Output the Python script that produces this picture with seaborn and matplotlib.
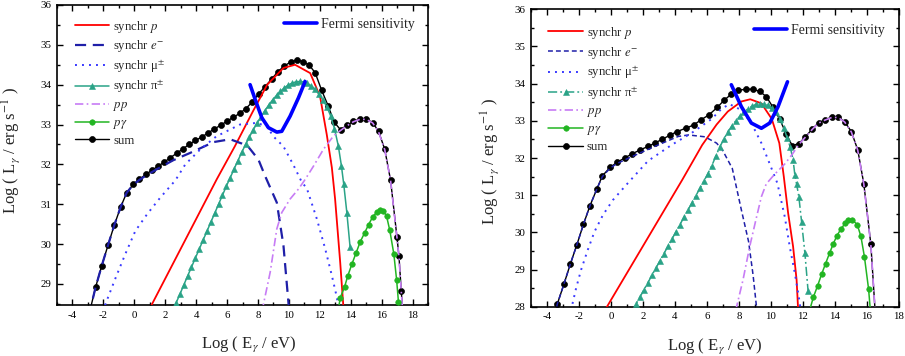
import numpy as np
import pandas as pd
import seaborn as sns
import matplotlib
matplotlib.use("Agg")
import matplotlib.pyplot as plt
from matplotlib.ticker import MultipleLocator

# ---------------- data: left panel ----------------
L_sum_x = [-2.95, -2.50, -2.11, -1.70, -1.29, -0.88, -0.49, -0.06, 0.33, 0.76, 1.17, 1.56, 1.95, 2.34, 2.75,
           3.15, 3.55, 3.95, 4.38, 4.78, 5.18, 5.58, 5.98, 6.40, 6.82, 7.22, 7.62, 8.05, 8.46, 8.88, 9.30,
           9.70, 10.12, 10.52, 10.93, 11.32, 11.70, 12.12, 12.55, 12.93, 13.34, 13.76, 14.18, 14.60, 15.00,
           15.42, 15.80, 16.20, 16.58, 16.99, 17.12, 17.27, 17.38]
L_sum_y = [28.20, 28.92, 29.45, 29.97, 30.48, 30.93, 31.29, 31.50, 31.63, 31.75, 31.86, 31.96, 32.06, 32.17, 32.28,
           32.39, 32.50, 32.60, 32.69, 32.79, 32.89, 32.98, 33.08, 33.18, 33.28, 33.40, 33.56, 33.77, 33.95, 34.14, 34.33,
           34.47, 34.57, 34.62, 34.58, 34.49, 34.30, 33.86, 33.46, 33.06, 32.87, 32.98, 33.08, 33.14, 33.14,
           33.05, 32.83, 32.38, 31.60, 30.18, 29.70, 28.83, 28.20]

L_p_x = [0.90, 1.13, 5.34, 6.50, 7.70, 8.60, 9.65, 10.40, 11.38, 12.02, 12.45, 12.78, 12.99, 13.32, 13.55]
L_p_y = [28.30, 28.48, 31.63, 32.45, 33.35, 34.00, 34.42, 34.50, 34.29, 33.70, 32.75, 31.92, 31.13, 29.54, 28.30]

L_e_x = [-2.95, -2.50, -2.11, -1.70, -1.29, -0.88, -0.49, -0.06, 0.33, 0.76, 1.47, 2.50, 3.63, 5.14, 6.20,
         6.97, 7.38, 8.03, 8.46, 9.22, 9.65, 9.97, 10.02]
L_e_y = [28.20, 28.92, 29.45, 29.97, 30.48, 30.93, 31.29, 31.49, 31.61, 31.72, 31.88, 32.10, 32.29, 32.56, 32.63,
         32.52, 32.44, 32.12, 31.71, 31.04, 29.96, 28.54, 28.30]

L_mu_x = [-2.05, -1.76, -1.23, -0.58, 0.07, 0.83, 1.69, 2.66, 3.30, 4.28, 5.30, 6.84, 7.90, 8.57, 9.00, 9.65,
          10.30, 10.84, 11.16, 11.81, 12.35, 12.78, 13.10, 13.25]
L_mu_y = [28.30, 28.60, 29.13, 29.75, 30.33, 30.75, 31.17, 31.60, 32.00, 32.38, 32.70, 33.00, 33.04, 32.96, 32.70, 32.45,
          31.98, 31.55, 31.40, 30.63, 29.88, 29.21, 28.67, 28.30]

L_pi_x = [2.50, 2.70, 2.95, 3.20, 3.45, 3.70, 3.95, 4.20, 4.45, 4.70, 4.95, 5.20, 5.45, 5.70, 5.95, 6.20, 6.45,
          6.70, 6.95, 7.20, 7.45, 7.70, 7.95, 8.20, 8.45, 8.70, 8.95, 9.20, 9.45, 9.70, 9.95, 10.20, 10.45,
          10.70, 10.95, 11.20, 11.45, 11.70, 11.95, 12.20, 12.45, 12.70, 12.95, 13.20, 13.40, 13.55, 13.75, 13.96]
L_pi_y = [28.30, 28.52, 28.74, 28.97, 29.20, 29.42, 29.65, 29.87, 30.10, 30.32, 30.55, 30.77, 31.00, 31.22, 31.45, 31.66, 31.88,
          32.09, 32.30, 32.50, 32.69, 32.87, 33.04, 33.20, 33.35, 33.49, 33.62, 33.73, 33.83, 33.92, 33.99, 34.04, 34.07,
          34.08, 34.07, 34.03, 33.97, 33.88, 33.76, 33.62, 33.45, 33.22, 32.90, 32.46, 31.96, 31.50, 30.79, 29.92]

L_pp_x = [8.30, 8.35, 8.79, 9.22, 9.54, 10.08, 10.62, 11.05, 11.60, 12.24, 12.90, 13.34, 13.76, 14.18, 14.60,
          15.00, 15.42, 15.80, 16.20, 16.58, 16.99, 17.12, 17.27, 17.38]
L_pp_y = [28.30, 28.48, 29.29, 30.38, 30.79, 31.13, 31.38, 31.62, 31.96, 32.38, 32.72, 32.85, 32.97, 33.07, 33.13,
          33.13, 33.04, 32.82, 32.37, 31.59, 30.17, 29.69, 28.82, 28.20]

L_pg_x = [13.18, 13.32, 13.60, 13.81, 14.08, 14.34, 14.62, 14.90, 15.16, 15.42, 15.68, 15.90, 16.10, 16.32, 16.53,
          16.79, 16.97, 17.09, 17.12]
L_pg_y = [28.30, 28.65, 28.92, 29.20, 29.50, 29.77, 30.06, 30.28, 30.49, 30.68, 30.80, 30.85, 30.84, 30.70, 30.34,
          29.75, 29.10, 28.54, 28.30]

L_fermi_x = [7.49, 7.82, 8.25, 8.68, 9.22, 9.54, 10.08, 10.62, 11.05]
L_fermi_y = [34.00, 33.63, 33.17, 32.92, 32.81, 32.83, 33.21, 33.67, 34.08]

# ---------------- data: right panel ----------------
R_sum_x = [-3.50, -3.35, -2.94, -2.54, -2.13, -1.72, -1.32, -0.89, -0.54, -0.05, 0.37, 0.85, 1.31, 1.83, 2.31,
           2.77, 3.19, 3.71, 4.13, 4.66, 5.18, 5.60, 6.12, 6.64, 7.06, 7.50, 7.95, 8.42, 8.86, 9.30, 9.71,
           10.13, 10.55, 10.95, 11.33, 11.75, 12.15, 12.58, 12.98, 13.38, 13.80, 14.20, 14.60, 15.02, 15.42,
           15.80, 16.24, 16.52]
R_sum_y = [27.80, 28.08, 28.61, 29.15, 29.67, 30.22, 30.71, 31.16, 31.52, 31.75, 31.88, 32.00, 32.11, 32.22, 32.31,
           32.41, 32.50, 32.62, 32.71, 32.80, 32.89, 33.02, 33.16, 33.36, 33.55, 33.71, 33.82, 33.85, 33.85, 33.79, 33.65,
           33.36, 33.04, 32.65, 32.33, 32.39, 32.57, 32.78, 32.95, 33.03, 33.10, 33.10, 32.98, 32.71, 32.22,
           31.31, 29.68, 27.80]

R_p_x = [-0.35, -0.25, 4.45, 5.70, 6.60, 7.30, 8.15, 8.70, 9.40, 10.05, 10.52, 10.80, 11.07, 11.38, 11.60, 11.68, 11.70]
R_p_y = [27.93, 28.00, 31.41, 32.35, 32.90, 33.25, 33.52, 33.58, 33.47, 33.05, 32.40, 31.50, 30.52, 29.62, 28.72, 28.05, 27.90]

R_e_x = [-3.50, -3.35, -2.94, -2.54, -2.13, -1.72, -1.32, -0.89, -0.54, -0.05, 0.37, 1.27, 2.94, 4.20, 4.85,
         5.87, 6.60, 6.96, 7.58, 8.15, 8.60, 8.88, 9.08, 9.12]
R_e_y = [27.80, 28.08, 28.61, 29.15, 29.67, 30.22, 30.71, 31.16, 31.50, 31.73, 31.85, 32.03, 32.35, 32.58, 32.62,
         32.57, 32.40, 32.22, 31.72, 30.60, 29.75, 28.85, 28.05, 27.90]

R_mu_x = [-2.55, -2.45, -2.18, -1.87, -1.45, -1.03, -0.50, 0.12, 0.96, 2.31, 3.78, 5.03, 6.29, 6.90, 7.40,
          8.15, 8.77, 9.40, 9.82, 10.40, 10.86, 11.17, 11.49, 11.80, 11.85]
R_mu_y = [27.90, 28.00, 28.50, 28.99, 29.53, 30.02, 30.47, 30.87, 31.28, 31.92, 32.35, 32.67, 33.05, 33.32, 33.45,
          33.29, 32.94, 32.40, 31.95, 31.32, 30.42, 29.62, 28.90, 28.10, 27.90]

R_pi_x = [1.30, 1.55, 1.80, 2.05, 2.30, 2.55, 2.80, 3.05, 3.30, 3.55, 3.80, 4.05, 4.30, 4.55, 4.80, 5.05, 5.30,
          5.55, 5.80, 6.05, 6.30, 6.55, 6.80, 7.05, 7.30, 7.55, 7.80, 8.05, 8.30, 8.55, 8.80, 9.05, 9.30,
          9.55, 9.80, 10.05, 10.30, 10.55, 10.80, 11.00, 11.20, 11.38, 11.49, 11.60, 11.74, 11.91, 12.12, 12.32]
R_pi_y = [27.80, 28.06, 28.25, 28.45, 28.64, 28.84, 29.03, 29.23, 29.42, 29.62, 29.81, 30.01, 30.20, 30.40, 30.59, 30.79, 30.98,
          31.18, 31.37, 31.58, 31.79, 32.05, 32.30, 32.50, 32.70, 32.86, 33.00, 33.12, 33.23, 33.32, 33.39, 33.44, 33.46,
          33.46, 33.42, 33.35, 33.24, 33.06, 32.82, 32.55, 32.30, 31.95, 31.55, 31.30, 30.96, 30.29, 29.44, 28.41]

R_pp_x = [7.75, 7.85, 8.25, 8.67, 9.09, 9.40, 9.70, 10.20, 10.86, 11.33, 11.75, 12.15, 12.58, 12.98, 13.38,
          13.80, 14.20, 14.60, 15.02, 15.42, 15.80, 16.24, 16.52]
R_pp_y = [27.90, 28.00, 28.72, 29.62, 30.40, 30.96, 31.30, 31.55, 31.84, 32.10, 32.37, 32.56, 32.77, 32.94, 33.02,
          33.09, 33.09, 32.97, 32.70, 32.21, 31.30, 29.67, 27.80]

R_pg_x = [12.38, 12.65, 12.91, 13.16, 13.41, 13.66, 13.89, 14.11, 14.37, 14.63, 14.84, 15.07, 15.39, 15.62, 15.84,
          16.10, 16.22]
R_pg_y = [27.85, 28.26, 28.56, 28.87, 29.16, 29.44, 29.69, 29.90, 30.09, 30.24, 30.33, 30.34, 30.21, 29.89, 29.34,
          28.47, 27.85]

R_fermi_x = [7.52, 8.15, 8.77, 9.40, 9.92, 10.44, 11.03]
R_fermi_y = [33.97, 33.38, 32.94, 32.80, 32.94, 33.38, 34.05]

labels = ["synchr $p$", "synchr $e^{-}$", "synchr \u03bc$^{\\pm}$", "synchr \u03c0$^{\\pm}$",
          "$pp$", "$p\\gamma$", "sum"]
x_ticks = [-4, -2, 0, 2, 4, 6, 8, 10, 12, 14, 16, 18]

# ---------------- styling ----------------
sns.set_theme(style="ticks")
plt.rcParams["font.family"] = ["Liberation Serif", "DejaVu Serif"]
plt.rcParams["mathtext.fontset"] = "stix"
plt.rcParams["axes.unicode_minus"] = False

C_P = "#ff0000"
C_E = "#1f1fa8"
C_MU = "#3a3aff"
C_PI = "#2aa387"
C_PP = "#c77cf5"
C_PG = "#22b522"
C_SUM = "#000000"
C_F = "#0000ff"

fig = plt.figure(figsize=(9.05, 3.56), dpi=100)
axL = fig.add_axes([57 / 905, 51 / 356, 371 / 905, 300 / 356])
axR = fig.add_axes([531 / 905, 49.3 / 356, 368 / 905, 297.4 / 356])


def line(ax, x, y, **kw):
    sns.lineplot(x=x, y=y, ax=ax, sort=False, estimator=None, legend=False, **kw)
    return ax.lines[-1]


def panel(ax, d, e_ls, e_lw, pi_ls, ylim, yticks, leg_pos, fermi_pos, ylab_pad, xlab_x, ylab_y):
    h_sum = line(ax, d["sum"][0], d["sum"][1], color=C_SUM, linestyle="-", lw=1.0, marker="o",
                 markersize=4.3, markeredgecolor=C_SUM, markeredgewidth=0.5, zorder=2)
    h_p = line(ax, d["p"][0], d["p"][1], color=C_P, linestyle="-", lw=1.3, zorder=3)
    h_e = line(ax, d["e"][0], d["e"][1], color=C_E, linestyle=e_ls, lw=e_lw, zorder=3)
    h_mu = line(ax, d["mu"][0], d["mu"][1], color=C_MU, linestyle=(0, (1, 2.6)), lw=1.4, zorder=3)
    h_pi = line(ax, d["pi"][0], d["pi"][1], color=C_PI, linestyle=pi_ls, lw=1.1, marker="^",
                markersize=3.7, markeredgecolor=C_PI, markeredgewidth=0.4, zorder=3)
    h_pp = line(ax, d["pp"][0], d["pp"][1], color=C_PP, linestyle=(0, (5, 2, 1, 2)), lw=1.2, zorder=3)
    h_pg = line(ax, d["pg"][0], d["pg"][1], color=C_PG, linestyle="-", lw=1.1, marker="o",
                markersize=4.0, markeredgecolor=C_PG, markeredgewidth=0.4, zorder=3)
    h_f = line(ax, d["fermi"][0], d["fermi"][1], color=C_F, linestyle="-", lw=2.6, zorder=4)

    ax.set_xlim(-5, ylim[2])
    ax.set_ylim(ylim[0], ylim[1])
    ax.set_xticks(x_ticks)
    ax.set_yticks(yticks)
    ax.xaxis.set_minor_locator(MultipleLocator(1))
    ax.yaxis.set_minor_locator(MultipleLocator(0.5))
    ax.tick_params(which="both", direction="in", top=True, right=True, colors="black",
                   labelsize=7.8, width=1.0)
    ax.tick_params(which="major", length=4.5, pad=4)
    ax.tick_params(which="minor", length=2.5)
    for s in ax.spines.values():
        s.set_visible(True)
        s.set_color("black")
        s.set_linewidth(1.2)
    ax.set_xlabel("Log ( E$_\\gamma$ / eV)", fontsize=12, labelpad=11)
    ax.set_ylabel("Log ( L$_\\gamma$ / erg s$^{-1}$ )", fontsize=12, labelpad=ylab_pad)
    ax.xaxis.label.set_x(xlab_x)
    ax.yaxis.label.set_y(ylab_y)

    leg1 = ax.legend(handles=[h_p, h_e, h_mu, h_pi, h_pp, h_pg, h_sum], labels=labels,
                     loc="upper left", bbox_to_anchor=leg_pos, frameon=False, fontsize=9.2,
                     handlelength=2.7, handletextpad=0.3, labelspacing=0.3, borderpad=0,
                     borderaxespad=0)
    ax.add_artist(leg1)
    ax.legend(handles=[h_f], labels=["Fermi sensitivity"], loc="upper right",
              bbox_to_anchor=fermi_pos, frameon=False, fontsize=10, handlelength=2.4,
              handletextpad=0.3, borderpad=0, borderaxespad=0)


dL = {"sum": (L_sum_x, L_sum_y), "p": (L_p_x, L_p_y), "e": (L_e_x, L_e_y), "mu": (L_mu_x, L_mu_y),
      "pi": (L_pi_x, L_pi_y), "pp": (L_pp_x, L_pp_y), "pg": (L_pg_x, L_pg_y), "fermi": (L_fermi_x, L_fermi_y)}
dR = {"sum": (R_sum_x, R_sum_y), "p": (R_p_x, R_p_y), "e": (R_e_x, R_e_y), "mu": (R_mu_x, R_mu_y),
      "pi": (R_pi_x, R_pi_y), "pp": (R_pp_x, R_pp_y), "pg": (R_pg_x, R_pg_y), "fermi": (R_fermi_x, R_fermi_y)}

panel(axL, dL, (0, (5, 3)), 1.6, "-", (28.47, 36, 19), [29, 30, 31, 32, 33, 34, 35, 36],
      (0.048, 0.955), (0.965, 0.958), 13, 0.517, 0.517)
panel(axR, dR, (0, (3.2, 2)), 1.1, (0, (6, 2, 1.2, 2)), (28, 36, 18), [28, 29, 30, 31, 32, 33, 34, 35, 36],
      (0.047, 0.948), (0.962, 0.95), 10, 0.5, 0.49)

fig.savefig("out.png", dpi=100)
